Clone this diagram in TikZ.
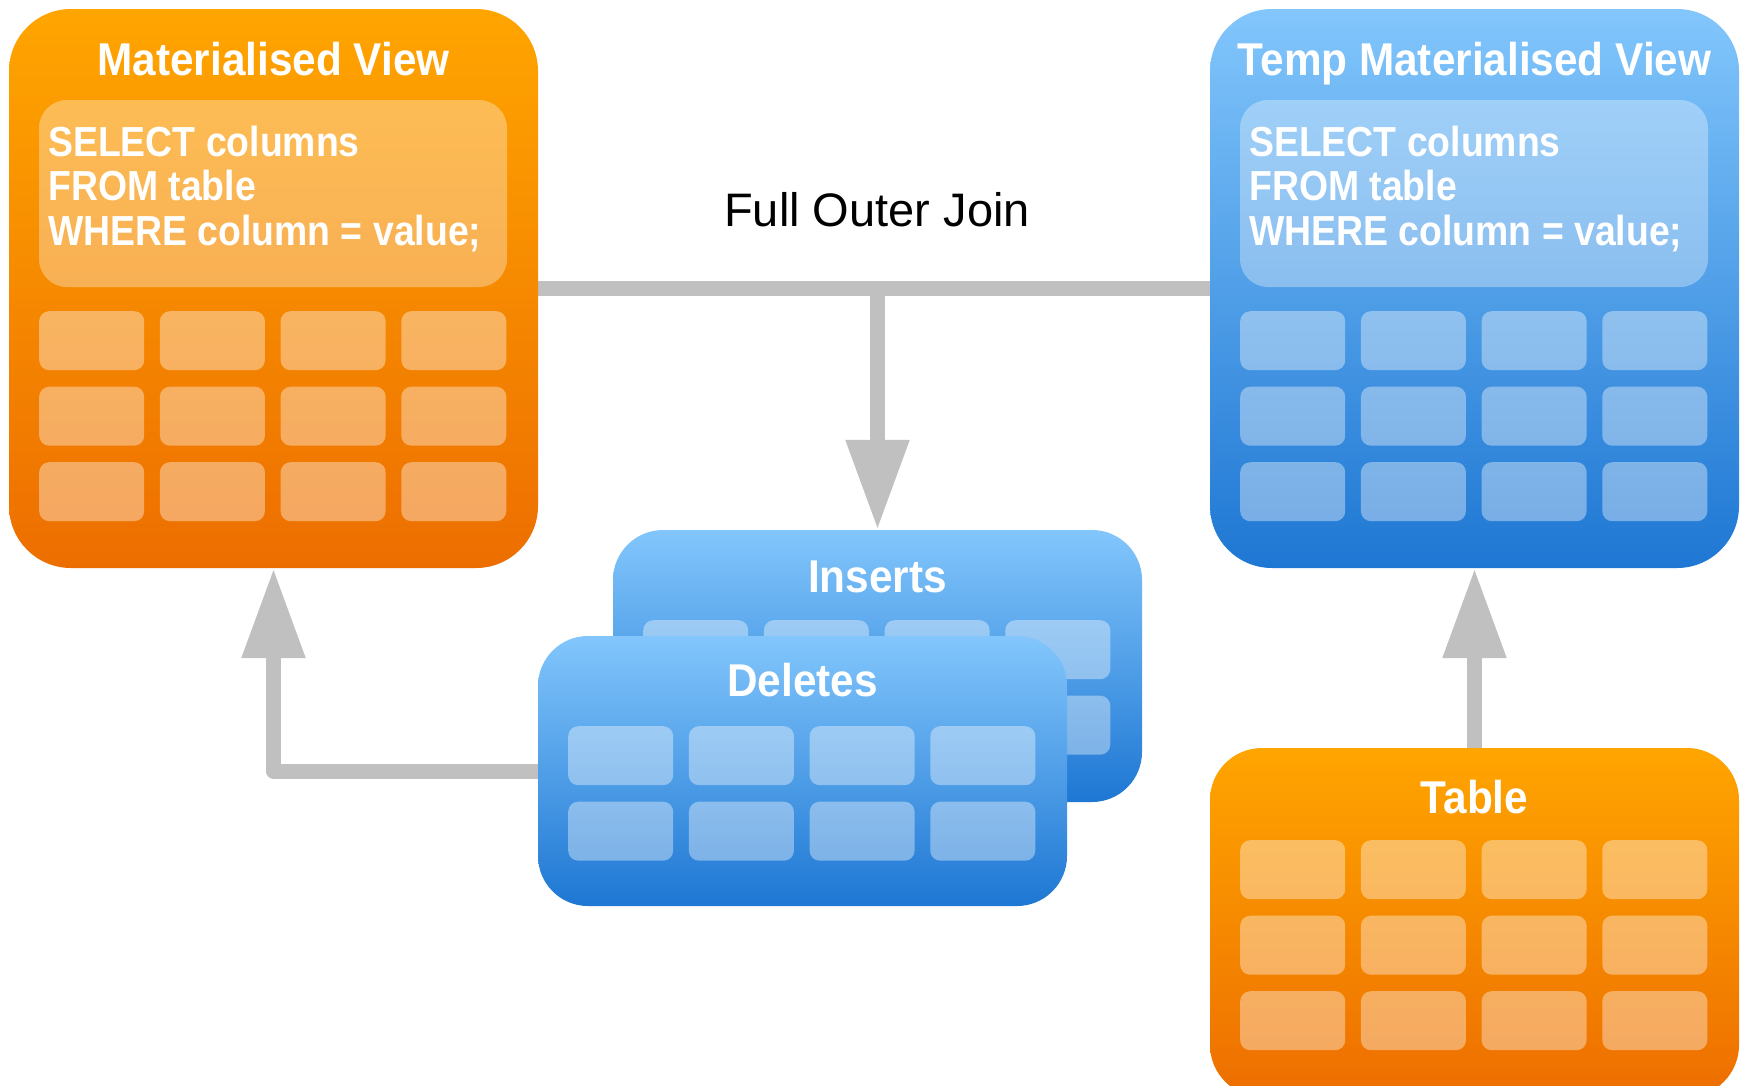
\documentclass[tikz,border=0pt]{standalone}
\usepackage{fontspec}
\setmainfont{Liberation Sans}
\newfontfamily\titlefont[FakeStretch=0.92]{Liberation Sans}
\newfontfamily\sqlfont[FakeStretch=0.89]{Liberation Sans}
\usetikzlibrary{arrows.meta}
\definecolor{otop}{RGB}{255,165,0}
\definecolor{obot}{RGB}{237,110,0}
\definecolor{btop}{RGB}{130,198,252}
\definecolor{bbot}{RGB}{30,119,211}
\definecolor{linegray}{RGB}{192,192,192}
\pgfdeclarelayer{back}
\pgfdeclarelayer{bg}
\pgfsetlayers{back,bg,main}
\newcommand\cellgrid[4]{%
  \foreach \r in {1,...,#4}{\foreach \c in {1,...,4}{
    \node[cellbox] (#1-\r-\c) at ({#2+(\c-1)*120.7},{#3+(\r-1)*75.5}) {};
  }}}
\begin{document}
\begin{tikzpicture}[x=1pt,y=-1pt,
  box/.style={shade, inner sep=0pt, minimum width=529pt, draw=none},
  obox/.style={box, top color=otop, bottom color=obot},
  bbox/.style={box, top color=btop, bottom color=bbot},
  cellbox/.style={fill=white, fill opacity=0.38, rounded corners=10pt, minimum width=105pt, minimum height=59pt, inner sep=0pt, anchor=north west},
  sqlbox/.style={fill=white, fill opacity=0.33, rounded corners=28pt, minimum width=468pt, minimum height=187pt, inner sep=0pt},
  title/.style={text=white, font=\titlefont\bfseries\fontsize{46}{46}\selectfont, anchor=base, inner sep=0pt},
  sql/.style={text=white, font=\sqlfont\bfseries\fontsize{42}{42}\selectfont, anchor=base west, inner sep=0pt},
  conn/.style={draw=linegray, line width=15pt, line join=round},
  arr/.style={conn, -{Triangle[length=90pt,width=60pt]}}]
\useasboundingbox (0,0) rectangle (1746,1085);
\clip (0,0) rectangle (1746,1085);
\begin{pgfonlayer}{back}
\fill[white] (0,0) rectangle (1746,1085);
\end{pgfonlayer}

% Materialised View
\node[obox, rounded corners=62pt, minimum height=559pt] (mv) at (273.5,288.5) {};
\node[title] (mvt) at (273.5,75) {Materialised View};
\node[sqlbox] (mvsql) at (273,193.5) {};
\node[sql] (mvs1) at (48,156) {SELECT columns};
\node[sql] (mvs2) at (48,200.5) {FROM table};
\node[sql] (mvs3) at (48,245) {WHERE column = value;};
\cellgrid{mvc}{39}{311}{3}

% Temp Materialised View
\node[bbox, rounded corners=62pt, minimum height=559pt] (tmv) at (1474.5,288.5) {};
\node[title] (tmvt) at (1474.5,75) {Temp Materialised View};
\node[sqlbox] (tmvsql) at (1474,193.5) {};
\node[sql] (tmvs1) at (1249,156) {SELECT columns};
\node[sql] (tmvs2) at (1249,200.5) {FROM table};
\node[sql] (tmvs3) at (1249,245) {WHERE column = value;};
\cellgrid{tmvc}{1240}{311}{3}

% Inserts
\node[bbox, rounded corners=50pt, minimum height=272pt] (ins) at (877.5,666) {};
\node[title] (inst) at (877.5,592.5) {Inserts};
\cellgrid{insc}{643}{620}{2}

% Deletes
\node[bbox, rounded corners=50pt, minimum height=270pt] (del) at (802.5,771) {};
\node[title] (delt) at (802.5,696.5) {Deletes};
\cellgrid{delc}{568}{726}{2}

% Table
\node[obox, rounded corners=52pt, minimum height=349pt] (tbl) at (1474.5,922.5) {};
\node[title] (tblt) at (1474.5,813.5) {Table};
\cellgrid{tblc}{1240}{840}{3}

% Label
\node[font=\fontsize{47}{47}\selectfont, anchor=base, inner sep=0pt] (foj) at (877,226) {Full Outer Join};

% Connectors
\begin{pgfonlayer}{bg}
\draw[conn] (mv.east) -- (tmv.west);
\coordinate (j) at (ins.north |- mv.east);
\draw[arr] (j) -- (ins.north);
\draw[arr] (del.west) -| (mv.south);
\draw[arr] (tbl.north) -- (tmv.south);
\end{pgfonlayer}
\end{tikzpicture}
\end{document}
